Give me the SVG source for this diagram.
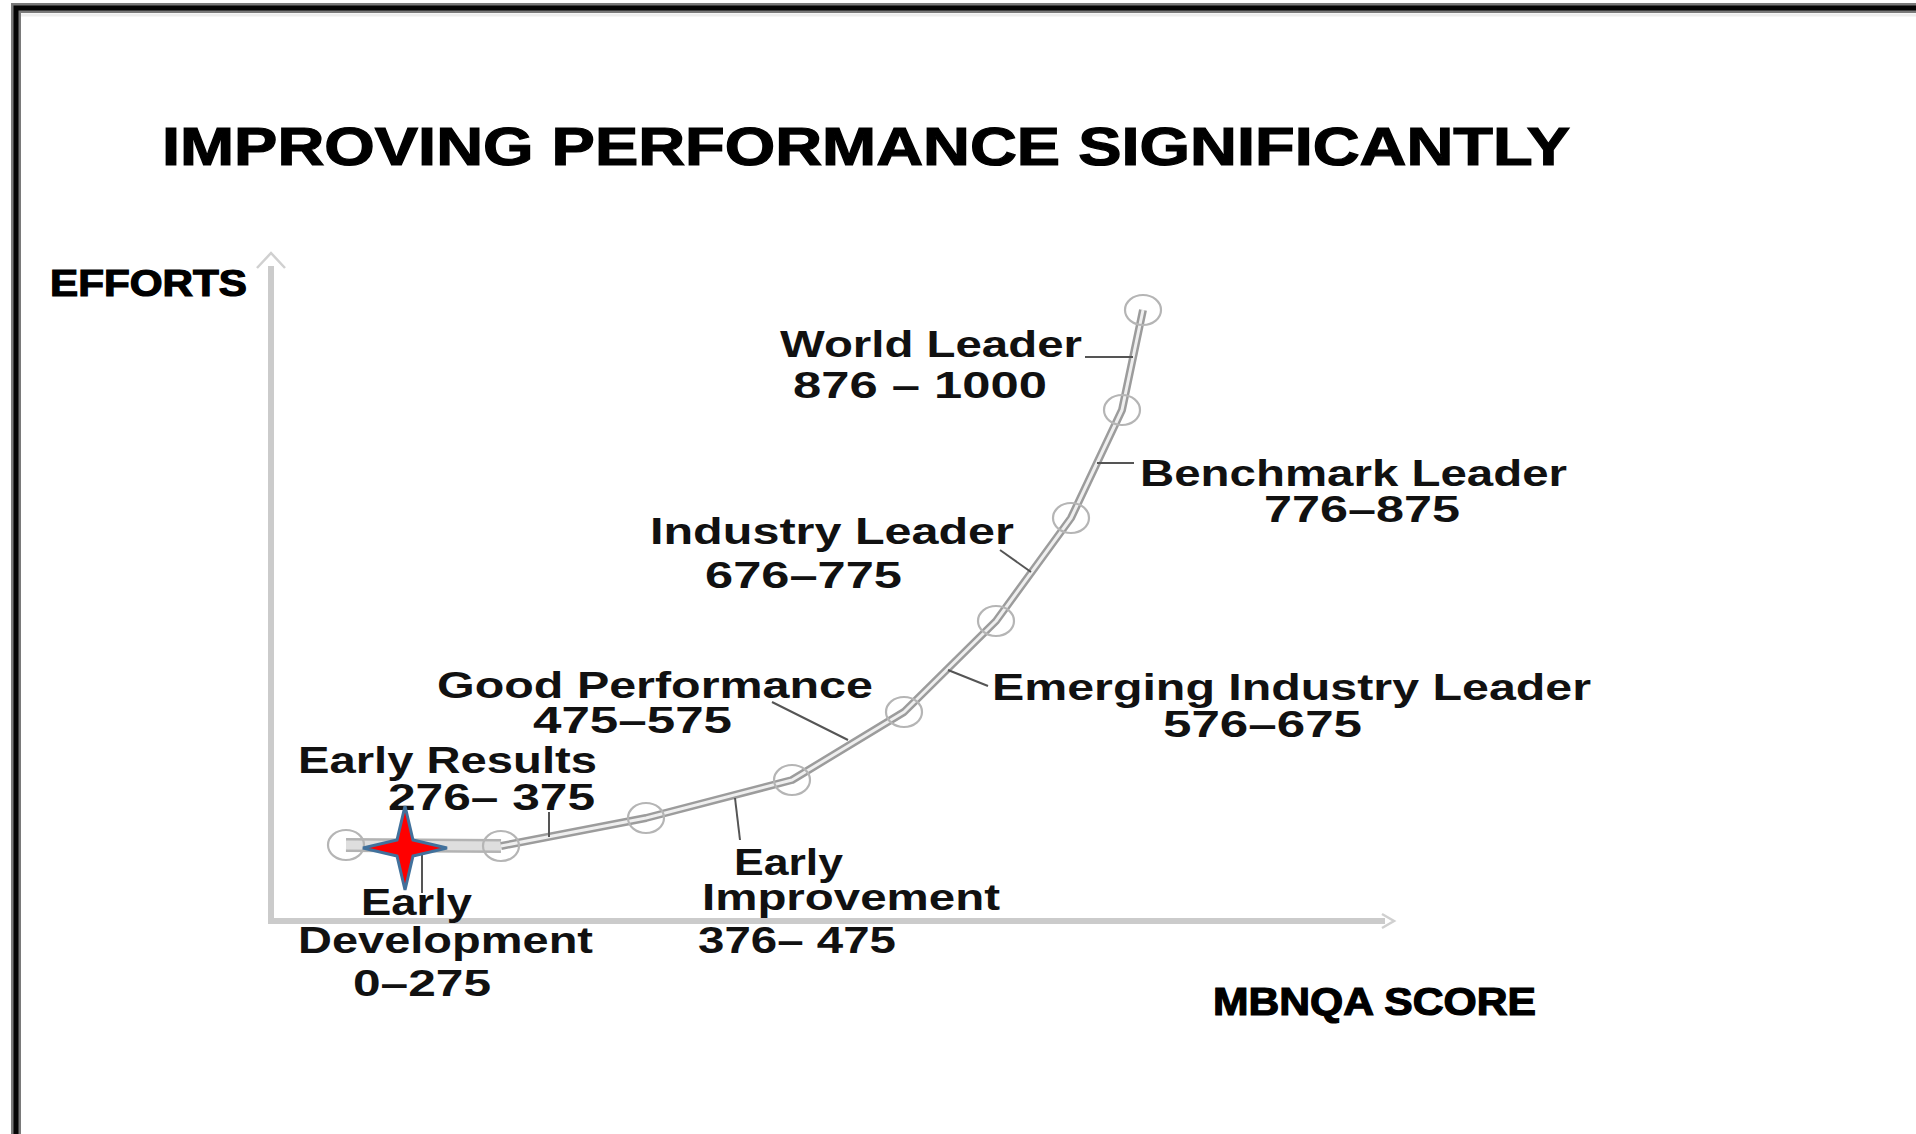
<svg xmlns="http://www.w3.org/2000/svg" width="1916" height="1134" viewBox="0 0 1916 1134">
  <style>
    .lbl { font-family: "Liberation Sans", Arial, Helvetica, sans-serif; font-weight: bold; font-size: 36px; fill: #111; }
    .head { font-family: "Liberation Sans", Arial, Helvetica, sans-serif; font-weight: bold; fill: #000; stroke: #000; stroke-width: 1.2; }
    .pt { fill: none; stroke: #b5b5b5; stroke-width: 2.2; }
    .lead { stroke: #555; stroke-width: 2; fill: none; }
    .axis { stroke: #cbcbcb; stroke-width: 6; fill: none; }
  </style>

  <rect width="1916" height="1134" fill="#fff"/>

  <!-- frame: heavy rule along the top and the left -->
  <path d="M16 1134 V8 H1916" fill="none" stroke="#7a7a7a" stroke-width="10"/>
  <path d="M16 1134 V8 H1916" fill="none" stroke="#050505" stroke-width="5"/>
  <line x1="21" y1="15" x2="1916" y2="15" stroke="#eeeeee" stroke-width="3"/>

  <!-- headings -->
  <text id="title" class="head" x="162" y="165" font-size="54" textLength="1408" lengthAdjust="spacingAndGlyphs">IMPROVING PERFORMANCE SIGNIFICANTLY</text>
  <text id="y-label" class="head" x="50" y="296" font-size="36" textLength="197" lengthAdjust="spacingAndGlyphs">EFFORTS</text>
  <text id="x-label" class="head" x="1213" y="1015" font-size="38" textLength="323" lengthAdjust="spacingAndGlyphs">MBNQA SCORE</text>

  <!-- axes -->
  <g id="axes">
    <line class="axis" x1="271" y1="923" x2="271" y2="266"/>
    <path d="M257 268 L271 253 L285 268" fill="none" stroke="#d0d0d0" stroke-width="2.5"/>
    <line class="axis" x1="268" y1="921" x2="1385" y2="921"/>
    <path d="M1382 914 L1394 921 L1382 928" fill="none" stroke="#d0d0d0" stroke-width="2.5"/>
  </g>

  <!-- growth curve linking the stages -->
  <g id="connectors">
    <line x1="346" y1="845" x2="501" y2="846" stroke="#b3b3b3" stroke-width="14"/>
    <line x1="346" y1="845" x2="501" y2="846" stroke="#dedede" stroke-width="9"/>
    <polyline points="501,846 646,818 792,780 904,712 996,621 1071,518 1122,410 1143,310" fill="none" stroke="#9c9c9c" stroke-width="8" stroke-linejoin="round"/>
    <polyline points="501,846 646,818 792,780 904,712 996,621 1071,518 1122,410 1143,310" fill="none" stroke="#efefef" stroke-width="3" stroke-linejoin="round"/>
  </g>

  <!-- stages -->
  <g id="early-development">
    <ellipse class="pt" cx="346" cy="845" rx="18" ry="15"/>
    <line class="lead" x1="422" y1="850" x2="422" y2="893"/>
    <text class="lbl" x="361" y="915" textLength="111" lengthAdjust="spacingAndGlyphs">Early</text>
    <text class="lbl" x="298" y="953" textLength="295" lengthAdjust="spacingAndGlyphs">Development</text>
    <text class="lbl" x="353" y="996" textLength="138" lengthAdjust="spacingAndGlyphs">0–275</text>
  </g>

  <g id="early-results">
    <ellipse class="pt" cx="501" cy="846" rx="18" ry="15"/>
    <line class="lead" x1="549" y1="812" x2="549" y2="837"/>
    <text class="lbl" x="298" y="773" textLength="299" lengthAdjust="spacingAndGlyphs">Early Results</text>
    <text class="lbl" x="388" y="810" textLength="207" lengthAdjust="spacingAndGlyphs">276– 375</text>
  </g>

  <g id="early-improvement">
    <ellipse class="pt" cx="646" cy="818" rx="18" ry="15"/>
    <line class="lead" x1="735" y1="798" x2="740" y2="840"/>
    <text class="lbl" x="734" y="875" textLength="109" lengthAdjust="spacingAndGlyphs">Early</text>
    <text class="lbl" x="702" y="910" textLength="298" lengthAdjust="spacingAndGlyphs">Improvement</text>
    <text class="lbl" x="698" y="953" textLength="198" lengthAdjust="spacingAndGlyphs">376– 475</text>
  </g>

  <g id="good-performance">
    <ellipse class="pt" cx="792" cy="780" rx="18" ry="15"/>
    <line class="lead" x1="772" y1="702" x2="848" y2="740"/>
    <text class="lbl" x="437" y="698" textLength="436" lengthAdjust="spacingAndGlyphs">Good  Performance</text>
    <text class="lbl" x="533" y="733" textLength="199" lengthAdjust="spacingAndGlyphs">475–575</text>
  </g>

  <g id="emerging-industry-leader">
    <ellipse class="pt" cx="904" cy="712" rx="18" ry="15"/>
    <line class="lead" x1="948" y1="670" x2="988" y2="686"/>
    <text class="lbl" x="992" y="700" textLength="599" lengthAdjust="spacingAndGlyphs">Emerging Industry  Leader</text>
    <text class="lbl" x="1163" y="737" textLength="199" lengthAdjust="spacingAndGlyphs">576–675</text>
  </g>

  <g id="industry-leader">
    <ellipse class="pt" cx="996" cy="621" rx="18" ry="15"/>
    <line class="lead" x1="1000" y1="550" x2="1031" y2="572"/>
    <text class="lbl" x="650" y="544" textLength="364" lengthAdjust="spacingAndGlyphs">Industry  Leader</text>
    <text class="lbl" x="705" y="588" textLength="197" lengthAdjust="spacingAndGlyphs">676–775</text>
  </g>

  <g id="benchmark-leader">
    <ellipse class="pt" cx="1071" cy="518" rx="18" ry="15"/>
    <line class="lead" x1="1097" y1="463" x2="1134" y2="463" stroke="#8a8a8a"/>
    <text class="lbl" x="1140" y="486" textLength="427" lengthAdjust="spacingAndGlyphs">Benchmark Leader</text>
    <text class="lbl" x="1264" y="522" textLength="196" lengthAdjust="spacingAndGlyphs">776–875</text>
  </g>

  <g id="world-leader">
    <ellipse class="pt" cx="1122" cy="410" rx="18" ry="15"/>
    <ellipse class="pt" cx="1143" cy="310" rx="18" ry="15"/>
    <line class="lead" x1="1085" y1="357" x2="1133" y2="357" stroke="#8a8a8a"/>
    <text class="lbl" x="780" y="357" textLength="302" lengthAdjust="spacingAndGlyphs">World Leader</text>
    <text class="lbl" x="793" y="398" textLength="254" lengthAdjust="spacingAndGlyphs">876 – 1000</text>
  </g>

  <!-- current-position marker -->
  <g id="marker">
    <polygon points="405,806 413,840 447,848 413,856 405,890 397,856 363,848 397,840" fill="#ff0000" stroke="#41719c" stroke-width="3" stroke-linejoin="miter"/>
  </g>
</svg>
